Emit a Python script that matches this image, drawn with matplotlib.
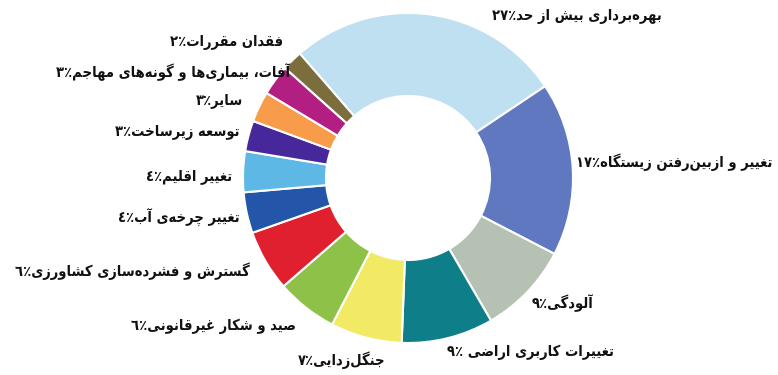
import matplotlib
matplotlib.use('Agg')
import matplotlib.pyplot as plt

# threats and their share (percent)
labels = [
    'بهره‌برداری بیش از حد',
    'تغییر و ازبین‌رفتن زیستگاه',
    'آلودگی',
    'تغییرات کاربری اراضی',
    'جنگل‌زدایی',
    'صید و شکار غیرقانونی',
    'گسترش و فشرده‌سازی کشاورزی',
    'تغییر چرخه‌ی آب',
    'تغییر اقلیم',
    'توسعه زیرساخت',
    'سایر',
    'آفات، بیماری‌ها و گونه‌های مهاجم',
    'فقدان مقررات',
]
values = [27, 17, 9, 9, 7, 6, 6, 4, 4, 3, 3, 3, 2]
colors = ['#bee0f1', '#6078bf', '#b5c1b2', '#0e7f89', '#f2e964', '#8dc148',
          '#e1202f', '#2356a8', '#5db8e6', '#46289a', '#f89b4b', '#b31e82',
          '#7c6d3c']

# label anchor (x, y from top) and which side the text hangs from
label_pos = [(492, 16, 'left'), (576, 162, 'left'), (532, 303, 'left'),
             (447, 352, 'left'), (298, 360, 'left'), (296, 326, 'right'),
             (250, 271, 'right'), (240, 218, 'right'), (232, 176, 'right'),
             (240, 132, 'right'), (243, 100, 'right'), (290, 72, 'right'),
             (283, 43, 'right')]

# contextual forms: (isolated, final, initial, medial); 2-tuple = joins right only
FORMS = {
    'ا': ('\uFE8D', '\uFE8E'), 'آ': ('\uFE81', '\uFE82'),
    'د': ('\uFEA9', '\uFEAA'), 'ر': ('\uFEAD', '\uFEAE'),
    'ز': ('\uFEAF', '\uFEB0'), 'و': ('\uFEED', '\uFEEE'),
    'ب': ('\uFE8F', '\uFE90', '\uFE91', '\uFE92'),
    'ت': ('\uFE95', '\uFE96', '\uFE97', '\uFE98'),
    'ج': ('\uFE9D', '\uFE9E', '\uFE9F', '\uFEA0'),
    'ح': ('\uFEA1', '\uFEA2', '\uFEA3', '\uFEA4'),
    'خ': ('\uFEA5', '\uFEA6', '\uFEA7', '\uFEA8'),
    'س': ('\uFEB1', '\uFEB2', '\uFEB3', '\uFEB4'),
    'ش': ('\uFEB5', '\uFEB6', '\uFEB7', '\uFEB8'),
    'ص': ('\uFEB9', '\uFEBA', '\uFEBB', '\uFEBC'),
    'ض': ('\uFEBD', '\uFEBE', '\uFEBF', '\uFEC0'),
    'ع': ('\uFEC9', '\uFECA', '\uFECB', '\uFECC'),
    'غ': ('\uFECD', '\uFECE', '\uFECF', '\uFED0'),
    'ف': ('\uFED1', '\uFED2', '\uFED3', '\uFED4'),
    'ق': ('\uFED5', '\uFED6', '\uFED7', '\uFED8'),
    'ل': ('\uFEDD', '\uFEDE', '\uFEDF', '\uFEE0'),
    'م': ('\uFEE1', '\uFEE2', '\uFEE3', '\uFEE4'),
    'ن': ('\uFEE5', '\uFEE6', '\uFEE7', '\uFEE8'),
    'ه': ('\uFEE9', '\uFEEA', '\uFEEB', '\uFEEC'),
    'ی': ('\uFBFC', '\uFBFD', '\uFBFE', '\uFBFF'),
    'ک': ('\uFB8E', '\uFB8F', '\uFB90', '\uFB91'),
    'گ': ('\uFB92', '\uFB93', '\uFB94', '\uFB95'),
    'چ': ('\uFB7A', '\uFB7B', '\uFB7C', '\uFB7D'),
}


def shape(text):
    # pick joined glyph forms, then reverse into visual order
    out = []
    for i, ch in enumerate(text):
        forms = FORMS.get(ch)
        if forms is None:
            if ch != '\u200c':
                out.append(ch)
            continue
        prev = text[i - 1] if i > 0 else None
        nxt = text[i + 1] if i + 1 < len(text) else None
        jp = prev in FORMS and len(FORMS[prev]) == 4
        jn = len(forms) == 4 and nxt in FORMS
        if jp and jn:
            out.append(forms[3])
        elif jp:
            out.append(forms[1])
        elif jn:
            out.append(forms[2])
        else:
            out.append(forms[0])
    return ''.join(out)[::-1]


def fa_num(n):
    return ''.join(chr(0x0660 + int(d)) for d in str(n))


fig = plt.figure(figsize=(7.78, 3.75), dpi=100)
ax = fig.add_axes([0, 0, 1, 1])

ax.pie(values, colors=colors, startangle=131, counterclock=False,
       radius=165, center=(408, 197),
       wedgeprops=dict(width=83, edgecolor='white', linewidth=1.5))

for lab, val, (x, y, side) in zip(labels, values, label_pos):
    sep = ' ' if lab.startswith('تغییرات') else ''
    txt = fa_num(val) + '\u066a' + sep + shape(lab)
    ax.text(x, 375 - y, txt, ha=side, va='center', fontsize=10.5,
            fontweight='bold', fontstretch='condensed',
            family='DejaVu Sans', color='#111111')

ax.set_xlim(0, 778)
ax.set_ylim(0, 375)
ax.set_aspect('equal')
ax.axis('off')

fig.savefig('out.png', dpi=100)
